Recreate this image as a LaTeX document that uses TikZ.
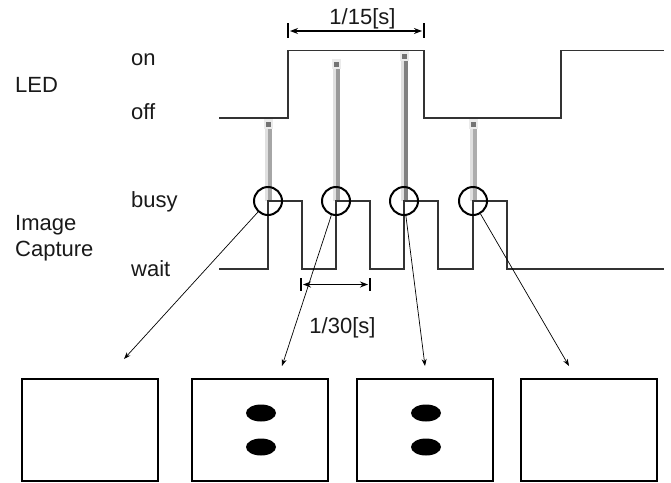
\documentclass[tikz,border=0pt]{standalone}
\usepackage{fontspec}
\setmainfont{Liberation Sans}
\usetikzlibrary{arrows.meta,shapes.geometric}
\definecolor{wave}{HTML}{333333}
\begin{document}
\begin{tikzpicture}[x=1pt,y=-1pt,
  lbl/.style={anchor=base west,inner sep=0,font=\fontsize{22}{26}\selectfont,text=black!90},
  wv/.style={draw=wave,line width=1.1},
  ring/.style={circle,draw=black,line width=2,minimum size=28,inner sep=0},
  arr/.style={draw=black,line width=0.7,-{Stealth[length=7,width=5]}},
  dim/.style={draw=black,line width=1.6,{Stealth[length=8,width=6]}-{Stealth[length=8,width=6]}},
  tick/.style={draw=black,line width=1.8},
  frame/.style={draw=black,line width=2,minimum width=136,minimum height=102,inner sep=0},
  spot/.style={ellipse,fill=black,minimum width=30,minimum height=17,inner sep=0}]
\useasboundingbox (0,0) rectangle (671,482);

% texts
\node[lbl] (led) at (15,92) {LED};
\node[lbl] (on) at (131,65) {on};
\node[lbl] (off) at (131,119) {off};
\node[lbl] (busy) at (131,207) {busy};
\node[lbl] (wait) at (131,276) {wait};
\node[lbl] (img) at (15,230) {Image};
\node[lbl] (cap) at (15,256) {Capture};
\node[lbl,anchor=base] (t15) at (362.5,24) {1/15[s]};
\node[lbl,anchor=base] (t30) at (342.5,333) {1/30[s]};

% gray bars
\newcommand{\gbar}[3]{%
  \fill[black!12] (#1-3,#2) rectangle (#1,201);
  \fill[#3] (#1,#2) rectangle (#1+3.5,201);
  \fill[black!8] (#1-4.5,#2-3) rectangle (#1+4.5,#2+7);
  \fill[black!55] (#1-2.5,#2) rectangle (#1+3,#2+5);
}
\gbar{268}{122}{black!35}
\gbar{336}{62}{black!40}
\gbar{404}{54}{black!50}
\gbar{473}{122}{black!32}

% LED waveform
\draw[wv] (219,118) -- (288,118) -- (288,50.5) -- (424,50.5) -- (424,118) -- (561,118) -- (561,50.5) -- (664,50.5);
% capture waveform
\draw[wv] (219,269) -- (268,269) -- (268,201) -- (302,201) -- (302,269) -- (336,269) -- (336,201) -- (370,201) -- (370,269)
  -- (404,269) -- (404,201) -- (438,201) -- (438,269) -- (473,269) -- (473,201) -- (507,201) -- (507,269) -- (664,269);

% circles
\node[ring] (c1) at (268,201) {};
\node[ring] (c2) at (336,201) {};
\node[ring] (c3) at (404,201) {};
\node[ring] (c4) at (473,201) {};

% arrow tips
\coordinate (p1) at (124,359);
\coordinate (p2) at (282,366);
\coordinate (p3) at (425,366);
\coordinate (p4) at (569,366);
\draw[arr] (c1) -- (p1);
\draw[arr] (c2) -- (p2);
\draw[arr] (c3) -- (p3);
\draw[arr] (c4) -- (p4);

% dimension 1/15
\coordinate (a1) at (288,23); \coordinate (a2) at (288,38);
\coordinate (b1) at (424,23); \coordinate (b2) at (424,38);
\draw[tick] (a1) -- (a2);
\draw[tick] (b1) -- (b2);
\coordinate (d1) at (290,31); \coordinate (d2) at (422,31);
\draw[dim] (d1) -- (d2);

% dimension 1/30
\coordinate (e1) at (301,278); \coordinate (e2) at (301,291);
\coordinate (f1) at (370,278); \coordinate (f2) at (370,291);
\draw[tick] (e1) -- (e2);
\draw[tick] (f1) -- (f2);
\coordinate (g1) at (303,284.5); \coordinate (g2) at (368,284.5);
\draw[dim] (g1) -- (g2);

% frames
\node[frame] (f1b) at (90,430) {};
\node[frame] (f2b) at (260,430) {};
\node[frame] (f3b) at (425,430) {};
\node[frame] (f4b) at (589,430) {};
\node[spot] (s1) at (261,413) {};
\node[spot] (s2) at (261,447) {};
\node[spot] (s3) at (426,413) {};
\node[spot] (s4) at (426,447) {};
\end{tikzpicture}
\end{document}
